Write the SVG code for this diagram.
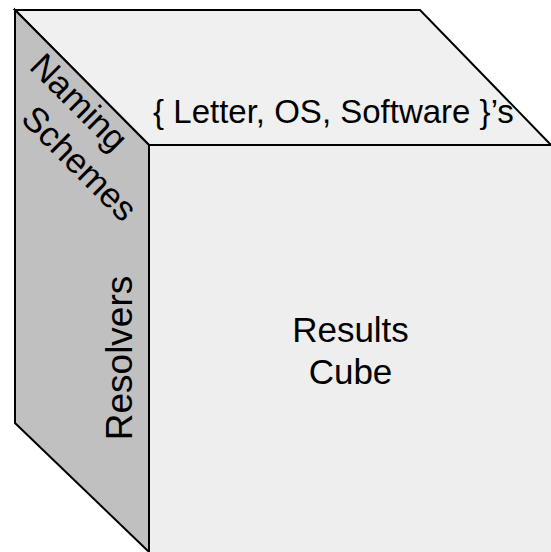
<svg xmlns="http://www.w3.org/2000/svg" width="551" height="552" viewBox="0 0 551 552">
  <style>
    .face { stroke: #000; stroke-width: 2; stroke-linejoin: miter; }
    .lbl { font-family: "Liberation Sans", Arial, sans-serif; fill: #000; }
  </style>
  <rect width="551" height="552" fill="#ffffff"/>
  <g id="front-face">
    <rect class="face" x="149" y="145" width="404" height="410" fill="#eeeeee"/>
  </g>
  <g id="top-face">
    <polygon class="face" points="15,10 420,10 551,145 149,145" fill="#f0f0f0"/>
  </g>
  <g id="left-face">
    <polygon class="face" points="15,10 149,145 149,552 15,423" fill="#c0c0c0"/>
  </g>
  <g id="labels">
    <text class="lbl" x="333.5" y="123" font-size="33" text-anchor="middle">{ Letter, OS, Software }’s</text>
    <text class="lbl" font-size="35" text-anchor="middle"><tspan x="350.5" y="342">Results</tspan><tspan x="350.5" y="384">Cube</tspan></text>
    <text class="lbl" font-size="37" text-anchor="middle" transform="translate(132,358) rotate(-90)">Resolvers</text>
    <text class="lbl" font-size="35" transform="translate(28,68) rotate(45)"><tspan x="0" y="0">Naming</tspan><tspan x="31" y="43">Schemes</tspan></text>
  </g>
</svg>
